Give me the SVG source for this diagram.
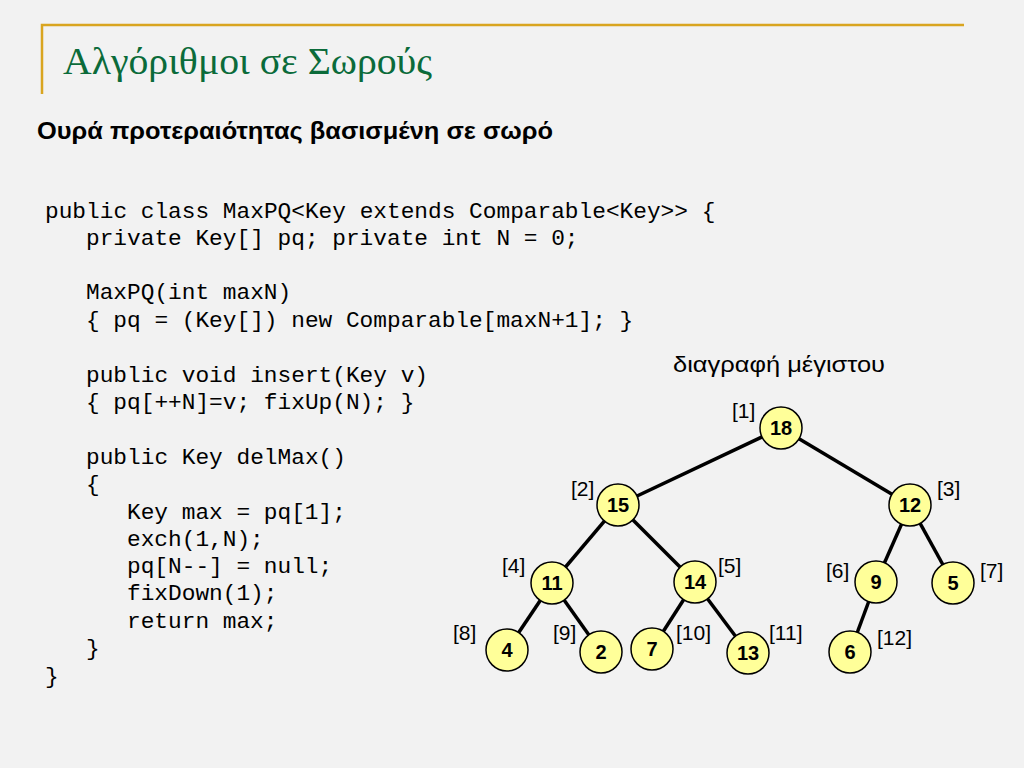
<svg xmlns="http://www.w3.org/2000/svg" width="1024" height="768" viewBox="0 0 1024 768">
<style>
.code{font-family:"Liberation Mono","DejaVu Sans Mono",monospace;font-size:22.8px;fill:#000}
.idx{font-family:"Liberation Sans",Arial,sans-serif;font-size:21px;fill:#000}
.node circle{fill:#FFFF99;stroke:#000;stroke-width:1.5}
.node text{font-family:"Liberation Sans",Arial,sans-serif;font-size:20px;font-weight:bold;fill:#000;text-anchor:middle}
.edge{stroke:#000;stroke-width:3.5;fill:none}
</style>
<rect width="1024" height="768" fill="#F2F2F2"/>
<path d="M42 94V25H964" fill="none" stroke="#D9A520" stroke-width="2.5"/>
<text x="63" y="74" font-family="Liberation Serif,serif" font-size="38" fill="#0B6B3A" textLength="369" lengthAdjust="spacingAndGlyphs">Αλγόριθμοι σε Σωρούς</text>
<text x="37" y="139" font-family="Liberation Sans,Arial,sans-serif" font-size="23" font-weight="bold" fill="#000" textLength="516" lengthAdjust="spacingAndGlyphs">Ουρά προτεραιότητας βασισμένη σε σωρό</text>
<g id="code">
<text class="code" x="45" y="218">public class MaxPQ&lt;Key extends Comparable&lt;Key&gt;&gt; {</text>
<text class="code" x="86" y="245">private Key[] pq; private int N = 0;</text>
<text class="code" x="86" y="299">MaxPQ(int maxN)</text>
<text class="code" x="86" y="327">{ pq = (Key[]) new Comparable[maxN+1]; }</text>
<text class="code" x="86" y="382">public void insert(Key v)</text>
<text class="code" x="86" y="409">{ pq[++N]=v; fixUp(N); }</text>
<text class="code" x="86" y="464">public Key delMax()</text>
<text class="code" x="86" y="491">{</text>
<text class="code" x="127" y="519">Key max = pq[1];</text>
<text class="code" x="127" y="546">exch(1,N);</text>
<text class="code" x="127" y="573">pq[N--] = null;</text>
<text class="code" x="127" y="600">fixDown(1);</text>
<text class="code" x="127" y="628">return max;</text>
<text class="code" x="86" y="655">}</text>
<text class="code" x="45" y="683">}</text>
</g>
<text x="673" y="372" font-family="Liberation Sans,Arial,sans-serif" font-size="22" fill="#000" textLength="212" lengthAdjust="spacingAndGlyphs">διαγραφή μέγιστου</text>
<g id="connectors">
<line class="edge" x1="781" y1="428" x2="618" y2="505"/>
<line class="edge" x1="781" y1="428" x2="910" y2="505"/>
<line class="edge" x1="618" y1="505" x2="552" y2="583"/>
<line class="edge" x1="618" y1="505" x2="695" y2="582"/>
<line class="edge" x1="910" y1="505" x2="876" y2="582"/>
<line class="edge" x1="910" y1="505" x2="953" y2="583"/>
<line class="edge" x1="552" y1="583" x2="507" y2="650"/>
<line class="edge" x1="552" y1="583" x2="601" y2="652"/>
<line class="edge" x1="695" y1="582" x2="652" y2="649"/>
<line class="edge" x1="695" y1="582" x2="748" y2="653"/>
<line class="edge" x1="876" y1="582" x2="850" y2="652"/>
</g>
<g id="n1" class="node"><circle cx="781" cy="428" r="21"/><text x="781" y="435">18</text></g>
<g id="n2" class="node"><circle cx="618" cy="505" r="21"/><text x="618" y="512">15</text></g>
<g id="n3" class="node"><circle cx="910" cy="505" r="21"/><text x="910" y="512">12</text></g>
<g id="n4" class="node"><circle cx="552" cy="583" r="21"/><text x="552" y="590">11</text></g>
<g id="n5" class="node"><circle cx="695" cy="582" r="21"/><text x="695" y="589">14</text></g>
<g id="n6" class="node"><circle cx="876" cy="582" r="21"/><text x="876" y="589">9</text></g>
<g id="n7" class="node"><circle cx="953" cy="583" r="21"/><text x="953" y="590">5</text></g>
<g id="n8" class="node"><circle cx="507" cy="650" r="21"/><text x="507" y="657">4</text></g>
<g id="n9" class="node"><circle cx="601" cy="652" r="21"/><text x="601" y="659">2</text></g>
<g id="n10" class="node"><circle cx="652" cy="649" r="21"/><text x="652" y="656">7</text></g>
<g id="n11" class="node"><circle cx="748" cy="653" r="21"/><text x="748" y="660">13</text></g>
<g id="n12" class="node"><circle cx="850" cy="652" r="21"/><text x="850" y="659">6</text></g>
<g id="labels">
<text class="idx" x="732" y="418">[1]</text>
<text class="idx" x="571" y="496">[2]</text>
<text class="idx" x="937" y="496">[3]</text>
<text class="idx" x="502" y="573">[4]</text>
<text class="idx" x="718" y="573">[5]</text>
<text class="idx" x="826" y="578">[6]</text>
<text class="idx" x="980" y="578">[7]</text>
<text class="idx" x="453" y="640">[8]</text>
<text class="idx" x="553" y="640">[9]</text>
<text class="idx" x="676" y="640">[10]</text>
<text class="idx" x="769" y="640">[11]</text>
<text class="idx" x="877" y="645">[12]</text>
</g>
</svg>
